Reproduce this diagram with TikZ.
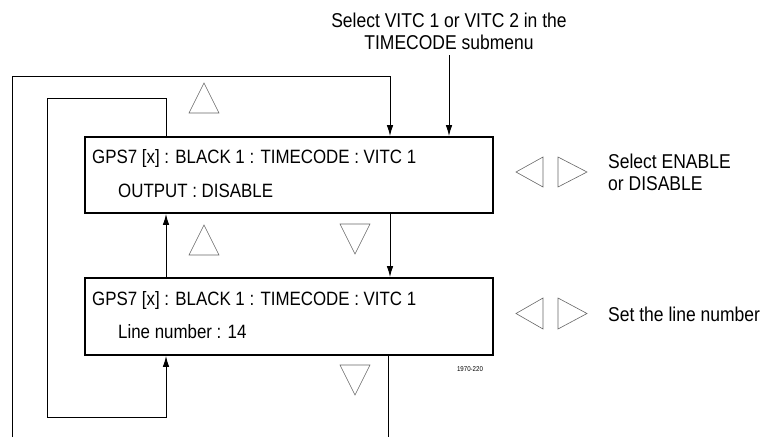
\documentclass[tikz,border=0pt]{standalone}
\usepackage{fontspec}
\setmainfont{Liberation Sans}[FakeStretch=0.875]
\usepackage{tikz}
\usetikzlibrary{arrows.meta, positioning, calc}

\begin{document}
\begin{tikzpicture}[
    x=1pt, y=-1pt,
    menubox/.style={draw, line width=1.8pt, minimum width=408pt, inner sep=0pt},
    line/.style={line width=1pt},
    arrow/.style={line width=1pt, -{Latex[length=11pt, width=6.5pt]}},
    txt/.style={font=\fontsize{20}{22}\selectfont, inner sep=0pt},
    boxtxt/.style={font=\fontsize{19.3}{22}\selectfont, inner sep=0pt, anchor=base west},
    tri/.style={draw=black!60, line width=0.6pt, line join=miter},
    figid/.style={font=\fontsize{7}{8}\selectfont, inner sep=0pt}
  ]
  \useasboundingbox (0,0) rectangle (762,437);

  % Menu boxes
  \node[menubox, minimum height=76pt] (box1) at (289,175) {};
  \node[menubox, minimum height=77pt] (box2) at (289,316.5) {};

  % Box texts
  \node[boxtxt] (b1top) at (92,163) {GPS7 [x] : BLACK 1 : TIMECODE : VITC 1};
  \node[boxtxt] (b1bot) at (118,197) {OUTPUT : DISABLE};
  \node[boxtxt] (b2top) at (92,305) {GPS7 [x] : BLACK 1 : TIMECODE : VITC 1};
  \node[boxtxt] (b2bot) at (118,338) {Line number : 14};

  % Notes
  \node[txt, anchor=north, align=center] (vitcnote) at (449,13) {Select VITC 1 or VITC 2 in the\\TIMECODE submenu};
  \node[txt, anchor=west, align=left] (enablenote) at (608,172.5) {Select ENABLE\\or DISABLE};
  \node[txt, anchor=west] (linenote) at (608,314) {Set the line number};
  \node[figid] (figno) at (470,369) {1970-220};

  % Loop corners
  \coordinate (upX) at (166,0);
  \coordinate (dnX) at (390,0);
  \coordinate (outerStart) at (12,437);
  \coordinate (outerTop) at (390,76);
  \coordinate (innerTop) at (47,98);
  \coordinate (innerBot) at (47,417);
  \coordinate (exitBot) at (388,437);

  % Arrows
  \draw[arrow] (outerStart) |- (outerTop) -- (outerTop |- box1.north);
  \draw[arrow] (box1.north -| upX) |- (innerTop) -- (innerBot) -| (box2.south -| upX);
  \draw[arrow] (box2.north -| upX) -- (box1.south -| upX);
  \draw[arrow] (box1.south -| dnX) -- (box2.north -| dnX);
  \draw[line] (box2.south -| exitBot) -- (exitBot);
  \draw[arrow] ([yshift=-5pt]vitcnote.south) -- (vitcnote.south |- box1.north);

  % Key triangles
  \draw[tri] (189,113) -- (204,83) -- (219,113) -- cycle;
  \draw[tri] (189,255) -- (204,225) -- (219,255) -- cycle;
  \draw[tri] (340,224) -- (355,254) -- (370,224) -- cycle;
  \draw[tri] (340,365) -- (355,395) -- (370,365) -- cycle;
  \draw[tri] (543,157) -- (516,172) -- (543,187) -- cycle;
  \draw[tri] (558,157) -- (587,172) -- (558,187) -- cycle;
  \draw[tri] (543,298) -- (516,313.5) -- (543,329) -- cycle;
  \draw[tri] (558,298) -- (587,313.5) -- (558,329) -- cycle;

\end{tikzpicture}
\end{document}
